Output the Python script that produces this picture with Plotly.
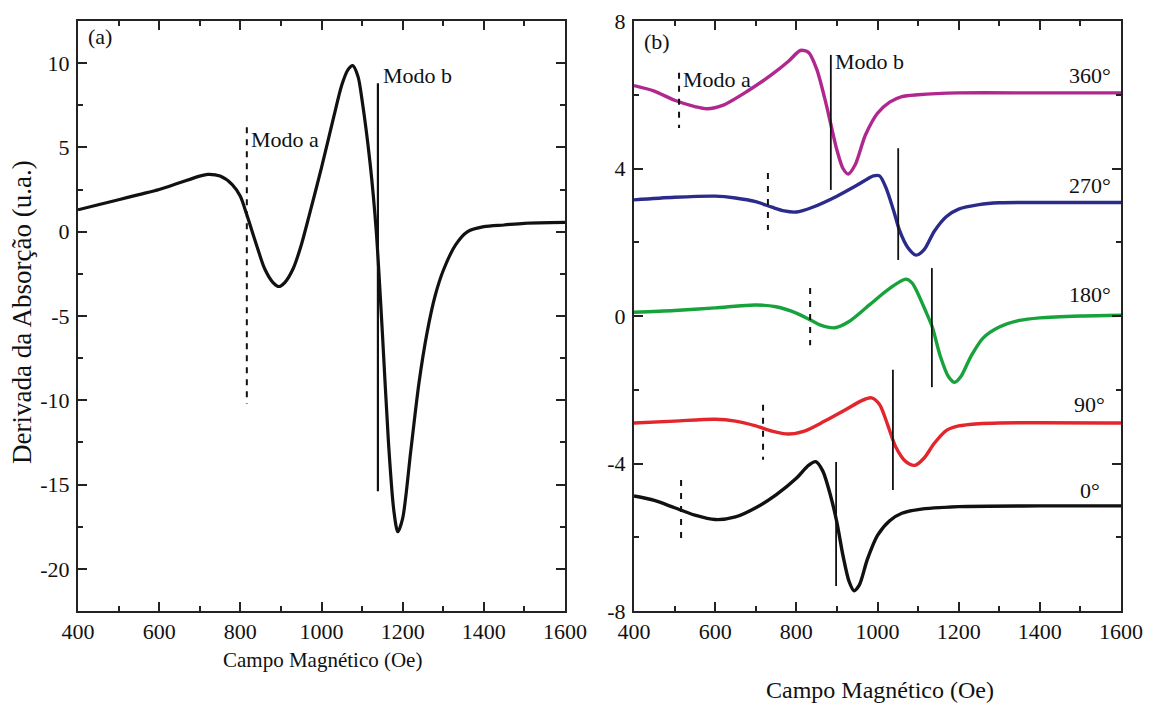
import plotly.graph_objects as go

# ---------------- data: panel (a) ----------------
a_x = [400, 450, 500, 550, 600, 650, 700, 720, 750, 780, 800, 816, 840, 860, 880, 895, 910, 930, 950, 970,
       1000, 1030, 1050, 1065, 1077, 1090, 1100, 1120, 1135, 1150, 1165, 1178, 1188, 1200, 1220, 1240,
       1260, 1280, 1300, 1330, 1360, 1400, 1450, 1500, 1600]
a_y = [1.3, 1.6, 1.9, 2.2, 2.5, 2.9, 3.3, 3.4, 3.3, 2.8, 2.1, 1.0, -0.8, -2.2, -3.0, -3.25, -3.0, -2.2, -0.8, 1.0,
       3.8, 6.8, 8.7, 9.6, 9.85, 9.2, 7.8, 4.0, 0.0, -6.0, -12.5, -16.5, -17.8, -17.0, -13.0, -9.0,
       -6.0, -3.8, -2.3, -0.8, 0.0, 0.3, 0.4, 0.5, 0.55]

a_modo_a_x = [816, 816]
a_modo_a_y = [6.2, -10.2]
a_modo_b_x = [1139, 1139]
a_modo_b_y = [8.8, -15.4]

# ---------------- data: panel (b) ----------------
b360_x = [400, 450, 500, 550, 580, 620, 680, 740, 780, 810, 830, 850, 870, 885, 900, 915, 928, 945, 970,
          1000, 1030, 1060, 1100, 1200, 1400, 1600]
b360_y = [6.25, 6.1, 5.85, 5.68, 5.62, 5.72, 6.1, 6.55, 6.9, 7.2, 7.15, 6.7, 5.9, 5.2, 4.5, 4.0, 3.85, 4.1, 4.9,
          5.5, 5.8, 5.95, 6.0, 6.05, 6.05, 6.05]

b270_x = [400, 500, 600, 650, 700, 740, 770, 800, 840, 900, 950, 990, 1005, 1020, 1040, 1055, 1075, 1095,
          1115, 1140, 1170, 1200, 1250, 1300, 1400, 1600]
b270_y = [3.15, 3.22, 3.25, 3.2, 3.1, 2.95, 2.85, 2.82, 2.95, 3.25, 3.55, 3.8, 3.8, 3.5, 2.85, 2.3, 1.85, 1.65,
          1.8, 2.3, 2.7, 2.9, 3.02, 3.07, 3.08, 3.08]

b180_x = [400, 500, 600, 700, 750, 800, 830, 860, 895, 930, 980, 1030, 1070, 1085, 1100, 1120, 1135, 1155,
          1175, 1190, 1205, 1230, 1260, 1300, 1350, 1400, 1500, 1600]
b180_y = [0.1, 0.15, 0.22, 0.3, 0.25, 0.08, -0.08, -0.25, -0.32, -0.15, 0.3, 0.75, 1.0, 0.9, 0.6, 0.1, -0.3, -1.1,
          -1.65, -1.8, -1.65, -1.1, -0.6, -0.3, -0.12, -0.05, 0.0, 0.02]

b90_x = [400, 500, 600, 650, 700, 740, 780, 820, 870, 920, 960, 985, 1005, 1025, 1045, 1070, 1092, 1115,
         1140, 1170, 1200, 1250, 1300, 1600]
b90_y = [-2.9, -2.85, -2.8, -2.85, -2.98, -3.12, -3.2, -3.12, -2.85, -2.55, -2.3, -2.22, -2.4, -2.95, -3.55,
         -3.95, -4.05, -3.85, -3.45, -3.1, -2.98, -2.92, -2.9, -2.9]

b0_x = [400, 450, 500, 550, 600, 650, 700, 750, 800, 830, 848, 865, 885, 900, 915, 930, 942, 955, 975,
        1000, 1030, 1060, 1100, 1200, 1400, 1600]
b0_y = [-4.88, -5.0, -5.2, -5.4, -5.52, -5.45, -5.2, -4.85, -4.4, -4.05, -3.95, -4.2, -4.9, -5.6, -6.5, -7.2,
        -7.45, -7.3, -6.6, -5.95, -5.55, -5.35, -5.25, -5.17, -5.15, -5.15]

# Modo a (dashed) and Modo b (solid) marker positions per angle: x, y_top, y_bottom
b_angles = ["360°", "270°", "180°", "90°", "0°"]
b_modo_a_x = [511, 730, 834, 718, 516]
b_modo_a_top = [6.6, 3.88, 0.76, -2.41, -4.45]
b_modo_a_bot = [5.1, 2.33, -0.79, -3.9, -6.07]
b_modo_b_x = [885, 1051, 1134, 1038, 898]
b_modo_b_top = [7.08, 4.55, 1.3, -1.46, -3.96]
b_modo_b_bot = [3.42, 1.52, -1.93, -4.72, -7.32]
b_label_y = [6.53, 3.55, 0.57, -2.41, -4.72]
b_colors = ["#B0288E", "#2B2B8C", "#17A23C", "#E3262B", "#111111"]

x_ticks = [400, 600, 800, 1000, 1200, 1400, 1600]
a_yticks = [10, 5, 0, -5, -10, -15, -20]
b_yticks = [8, 4, 0, -4, -8]

FONT = "Liberation Serif"
AX = "#222222"

fig = go.Figure()

# panel (a)
fig.add_trace(go.Scatter(x=a_x, y=a_y, mode="lines", line=dict(color="#111111", width=3.2, shape="spline", smoothing=0.8),
                         xaxis="x", yaxis="y", showlegend=False))
fig.add_trace(go.Scatter(x=a_modo_a_x, y=a_modo_a_y, mode="lines", line=dict(color="#111111", width=2, dash="6px,6px"),
                         xaxis="x", yaxis="y", showlegend=False))
fig.add_trace(go.Scatter(x=a_modo_b_x, y=a_modo_b_y, mode="lines", line=dict(color="#111111", width=2.2),
                         xaxis="x", yaxis="y", showlegend=False))

# panel (b)
series_b = [(b360_x, b360_y), (b270_x, b270_y), (b180_x, b180_y), (b90_x, b90_y), (b0_x, b0_y)]
for (xs, ys), c in zip(series_b, b_colors):
    fig.add_trace(go.Scatter(x=xs, y=ys, mode="lines", line=dict(color=c, width=3.4, shape="spline", smoothing=0.8),
                             xaxis="x2", yaxis="y2", showlegend=False))
for i in range(len(b_angles)):
    fig.add_trace(go.Scatter(x=[b_modo_a_x[i], b_modo_a_x[i]], y=[b_modo_a_top[i], b_modo_a_bot[i]], mode="lines",
                             line=dict(color="#111111", width=2, dash="6px,7px"),
                             xaxis="x2", yaxis="y2", showlegend=False))
    fig.add_trace(go.Scatter(x=[b_modo_b_x[i], b_modo_b_x[i]], y=[b_modo_b_top[i], b_modo_b_bot[i]], mode="lines",
                             line=dict(color="#111111", width=1.8),
                             xaxis="x2", yaxis="y2", showlegend=False))

def xaxis_cfg(domain, anchor):
    return dict(domain=domain, anchor=anchor, range=[400, 1600], tickvals=x_ticks, ticktext=[str(v) for v in x_ticks],
                showline=True, linecolor=AX, linewidth=2, mirror="ticks", ticks="inside", ticklen=9, tickwidth=2,
                tickcolor=AX, showgrid=False, zeroline=False,
                minor=dict(dtick=100, tick0=400, ticks="inside", ticklen=5, tickwidth=2, tickcolor=AX, showgrid=False),
                tickfont=dict(family=FONT, size=22, color="#111"), automargin=False)

def yaxis_cfg(domain, anchor, rng, ticks, minor_dt):
    return dict(domain=domain, anchor=anchor, range=rng, tickvals=ticks, ticktext=[str(v) for v in ticks],
                showline=True, linecolor=AX, linewidth=2, mirror="ticks", ticks="inside", ticklen=9, tickwidth=2,
                tickcolor=AX, showgrid=False, zeroline=False,
                minor=dict(dtick=minor_dt, tick0=0, ticks="inside", ticklen=5, tickwidth=2, tickcolor=AX, showgrid=False),
                tickfont=dict(family=FONT, size=22, color="#111"), automargin=False)

ydom = [1 - 611 / 711, 1 - 21 / 711]
fig.update_layout(
    width=1157, height=711, margin=dict(l=0, r=0, t=0, b=0),
    paper_bgcolor="white", plot_bgcolor="white",
    xaxis=xaxis_cfg([78 / 1157, 565 / 1157], "y"),
    yaxis=yaxis_cfg(ydom, "x", [-22.5, 12.5], a_yticks, 2.5),
    xaxis2=xaxis_cfg([634 / 1157, 1121 / 1157], "y2"),
    yaxis2=yaxis_cfg(ydom, "x2", [-8, 8], b_yticks, 2),
    font=dict(family=FONT, color="#111", size=22),
)
fig.update_yaxes(ticklabelstandoff=2)

ann = []
# panel labels
ann.append(dict(x=400, y=11.6, xref="x", yref="y", text="(a)", showarrow=False, xanchor="left", xshift=8,
                font=dict(family=FONT, size=22)))
ann.append(dict(x=400, y=7.45, xref="x2", yref="y2", text="(b)", showarrow=False, xanchor="left", xshift=8,
                font=dict(family=FONT, size=22)))
# panel (a) mode labels
ann.append(dict(x=a_modo_a_x[0], y=a_modo_a_y[0], xref="x", yref="y", text="Modo a", showarrow=False,
                xanchor="left", yanchor="top", xshift=2, yshift=2, font=dict(family=FONT, size=22)))
ann.append(dict(x=a_modo_b_x[0], y=a_modo_b_y[0], xref="x", yref="y", text="Modo b", showarrow=False,
                xanchor="left", yanchor="middle", xshift=3, yshift=8, font=dict(family=FONT, size=22)))
# panel (b) mode labels (on the 360° curve)
ann.append(dict(x=b_modo_a_x[0], y=b_modo_a_top[0], xref="x2", yref="y2", text="Modo a", showarrow=False,
                xanchor="left", yanchor="top", xshift=2, yshift=8, font=dict(family=FONT, size=22)))
ann.append(dict(x=b_modo_b_x[0], y=b_modo_b_top[0], xref="x2", yref="y2", text="Modo b", showarrow=False,
                xanchor="left", yanchor="top", xshift=2, yshift=8, font=dict(family=FONT, size=22)))
# angle labels
for lab, yv in zip(b_angles, b_label_y):
    ann.append(dict(x=1523, y=yv, xref="x2", yref="y2", text=lab, showarrow=False, xanchor="center",
                    yanchor="middle", font=dict(family=FONT, size=22)))
# axis titles
ann.append(dict(x=322 / 1157, y=1 - 660 / 711, xref="paper", yref="paper", text="Campo Magnético (Oe)",
                showarrow=False, xanchor="center", yanchor="middle", font=dict(family=FONT, size=21)))
ann.append(dict(x=880 / 1157, y=1 - 690 / 711, xref="paper", yref="paper", text="Campo Magnético (Oe)",
                showarrow=False, xanchor="center", yanchor="middle", font=dict(family=FONT, size=24)))
ann.append(dict(x=22 / 1157, y=1 - 312 / 711, xref="paper", yref="paper", text="Derivada da Absorção (u.a.)",
                showarrow=False, xanchor="center", yanchor="middle", textangle=-90,
                font=dict(family=FONT, size=27)))
fig.update_layout(annotations=ann)

fig.write_html("out.html", include_plotlyjs=True)
